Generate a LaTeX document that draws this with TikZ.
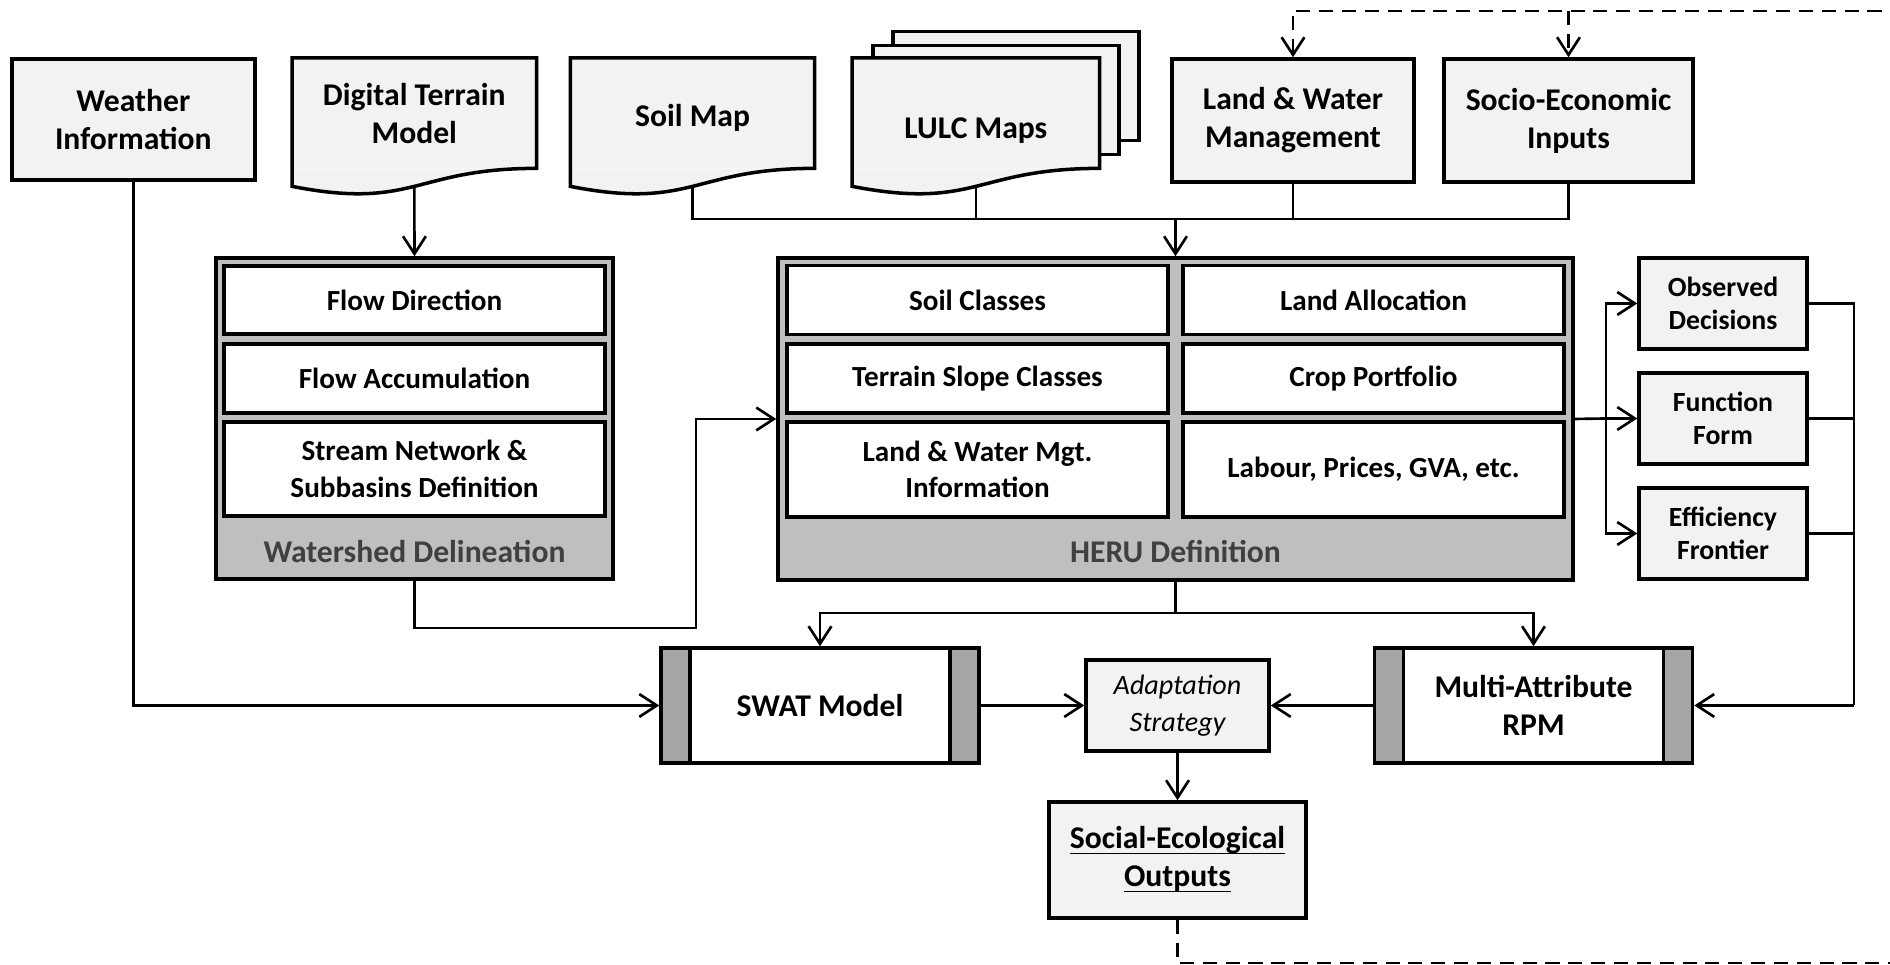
\documentclass[tikz,border=0pt]{standalone}
\usepackage{fontspec}
\setmainfont{Carlito}
\usetikzlibrary{calc}
\usetikzlibrary{arrows.meta}
\definecolor{ColFill}{RGB}{242,242,242}
\definecolor{ColGroup}{RGB}{191,191,191}
\definecolor{ColBar}{RGB}{166,166,166}
\definecolor{ColTitle}{RGB}{64,64,64}
\tikzstyle{InputBox}=[rectangle,draw=black,fill=ColFill,line width=1pt,inner sep=0pt,align=center,
font=\fontsize{9}{10.8}\selectfont\bfseries]
\tikzstyle{DocBox}=[rectangle,fill=ColFill,minimum width=2.43cm,minimum height=1.09cm,inner sep=0pt,align=center,
font=\fontsize{9}{10.8}\selectfont\bfseries]
\tikzstyle{DocLine}=[draw=black,line width=1pt]
\tikzstyle{GroupBox}=[rectangle,draw=black,fill=ColGroup,line width=1pt,inner sep=0pt]
\tikzstyle{GroupTitle}=[text=ColTitle,font=\fontsize{9}{10.8}\selectfont\bfseries]
\tikzstyle{StepBox}=[rectangle,draw=black,fill=white,line width=1pt,minimum width=3.81cm,inner sep=0pt,align=center,
font=\fontsize{8.3}{10.4}\selectfont\bfseries]
\tikzstyle{SideBox}=[InputBox,minimum width=1.68cm,minimum height=0.91cm,font=\fontsize{7.9}{9.4}\selectfont\bfseries]
\tikzstyle{ModelBox}=[rectangle,draw=black,fill=white,line width=1pt,minimum width=3.18cm,minimum height=1.15cm,
inner sep=0pt,align=center,font=\fontsize{9}{11}\selectfont\bfseries,
path picture={
\fill[ColBar](path picture bounding box.north west)rectangle([xshift=0.29cm]path picture bounding box.south west);
\fill[ColBar](path picture bounding box.north east)rectangle([xshift=-0.29cm]path picture bounding box.south east);
\draw[line width=1pt]([xshift=0.29cm]path picture bounding box.north west)--([xshift=0.29cm]path picture bounding box.south west);
\draw[line width=1pt]([xshift=-0.29cm]path picture bounding box.north east)--([xshift=-0.29cm]path picture bounding box.south east);}]
\tikzstyle{LinkLine}=[line width=0.75pt]
\tikzstyle{LinkArrow}=[LinkLine,-{Straight Barb[length=5pt,width=6.5pt]}]
\tikzstyle{LinkDash}=[LinkArrow,dash pattern=on 4pt off 2.5pt]
\newcommand{\DocWave}[1]{%
\fill[ColFill](#1.south east)..controls(#1.south)and($(#1.south)+(0,-0.42)$)..($(#1.south west)+(0,-0.18)$)--(#1.south west)--cycle;
\draw[DocLine](#1.north west)--(#1.north east)--(#1.south east)..controls(#1.south)and($(#1.south)+(0,-0.42)$)..($(#1.south west)+(0,-0.18)$)--cycle;}

\begin{document}
\begin{tikzpicture}
        \useasboundingbox(0,0)rectangle(18.9,9.65);
        \node[InputBox,minimum width=2.43cm,minimum height=1.21cm](weather)at(1.333,8.456){Weather\\Information};
        \node[DocBox](dtm)at(4.143,8.518){Digital Terrain\\Model};
        \DocWave{dtm}
        \node[DocBox](soil)at(6.925,8.518){\raisebox{-0.05cm}[\height][\depth]{Soil Map}};
        \DocWave{soil}
        \node[DocBox,draw=black,line width=1pt,minimum width=2.46cm](lulcC)at(10.159,8.79){};
        \node[DocBox,draw=black,line width=1pt,minimum width=2.46cm](lulcB)at(9.959,8.65){};
        \node[DocBox,minimum width=2.46cm](lulc)at(9.759,8.518){\raisebox{-0.17cm}[\height][\depth]{LULC Maps}};
        \DocWave{lulc}
        \node[InputBox,minimum width=2.42cm,minimum height=1.23cm](lw)at(12.93,8.445){Land \& Water\\Management};
        \node[InputBox,minimum width=2.49cm,minimum height=1.23cm](socio)at(15.685,8.445){Socio-Economic\\Inputs};
        \node[GroupBox,minimum width=3.97cm,minimum height=3.21cm](ws)at(4.145,5.465){};
        \node[StepBox,minimum height=0.68cm](flowDir)at(4.145,6.65){Flow Direction};
        \node[StepBox,minimum height=0.69cm](flowAcc)at(4.145,5.865){Flow Accumulation};
        \node[StepBox,minimum height=0.94cm](streamNet)at(4.145,4.96){Stream Network \&\\Subbasins Definition};
        \node[GroupTitle](wsTitle)at(4.145,4.13){Watershed Delineation};
        \node[GroupBox,minimum width=7.95cm,minimum height=3.22cm](heru)at(11.755,5.46){};
        \node[StepBox,minimum height=0.69cm](soilCls)at(9.775,6.65){Soil Classes};
        \node[StepBox,minimum height=0.69cm](slopeCls)at(9.775,5.865){Terrain Slope Classes};
        \node[StepBox,minimum height=0.95cm](mgtInfo)at(9.775,4.955){Land \& Water Mgt.\\Information};
        \node[StepBox,minimum height=0.69cm](landAlloc)at(13.735,6.65){Land Allocation};
        \node[StepBox,minimum height=0.69cm](cropPort)at(13.735,5.865){Crop Portfolio};
        \node[StepBox,minimum height=0.95cm](labour)at(13.735,4.955){Labour, Prices, GVA, etc.};
        \node[GroupTitle](heruTitle)at(11.755,4.13){HERU Definition};
        \node[SideBox](obs)at(17.23,6.615){Observed\\Decisions};
        \node[SideBox](fun)at(17.23,5.465){Function\\Form};
        \node[SideBox](eff)at(17.23,4.315){Efficiency\\Frontier};
        \node[ModelBox](swat)at(8.20,2.595){SWAT Model};
        \node[ModelBox](rpm)at(15.335,2.595){Multi-Attribute\\RPM};
        \node[InputBox,minimum width=1.83cm,minimum height=0.91cm,font=\fontsize{8}{10.5}\selectfont\itshape](adapt)at(11.775,2.595){Adaptation\\Strategy};
        \node[InputBox,minimum width=2.57cm,minimum height=1.16cm](seo)at(11.775,1.05){\underline{\raisebox{0pt}[\height][0pt]{Social-Ecological}}\\\underline{\raisebox{0pt}[\height][0pt]{Outputs}}};
        \coordinate(dtmB)at($(dtm.south)+(0,-0.18)$);
        \coordinate(soilB)at($(soil.south)+(0,-0.18)$);
        \coordinate(lulcEnd)at($(lulc.south)+(0,-0.18)$);
        \coordinate(busA)at(11.755,7.46);
        \coordinate(bendA)at(6.96,3.37);
        \coordinate(busB)at(11.755,3.52);
        \coordinate(brA)at(16.06,5.465);
        \coordinate(colA)at(18.54,2.595);
        \coordinate(fbBot)at(19.0,0.02);
        \coordinate(fbTop)at(19.0,9.54);
        \coordinate(fbMid)at(15.685,9.54);
        \draw[LinkArrow](dtmB)--(flowDir.north|-ws.north);
        \draw[LinkLine](soilB)|-(busA);
        \draw[LinkLine](lulcEnd)|-(busA);
        \draw[LinkLine](lw.south)|-(busA);
        \draw[LinkLine](socio.south)|-(busA);
        \draw[LinkArrow](busA)--(heru.north);
        \draw[LinkArrow](ws.south)|-(bendA)|-(heru.west);
        \draw[LinkArrow](weather.south)|-(swat.west);
        \draw[LinkLine](heru.south)--(busB);
        \draw[LinkArrow](busB)-|(swat.north);
        \draw[LinkArrow](busB)-|(rpm.north);
        \draw[LinkLine](heru.east)--(brA);
        \draw[LinkArrow](brA)|-(obs.west);
        \draw[LinkArrow](brA)--(fun.west);
        \draw[LinkArrow](brA)|-(eff.west);
        \draw[LinkLine](obs.east)-|(colA);
        \draw[LinkLine](fun.east)-|(colA);
        \draw[LinkLine](eff.east)-|(colA);
        \draw[LinkArrow](colA)--(rpm.east);
        \draw[LinkArrow](swat.east)--(adapt.west);
        \draw[LinkArrow](rpm.west)--(adapt.east);
        \draw[LinkArrow](adapt.south)--(seo.north);
        \draw[LinkDash](seo.south)|-(fbBot)--(fbTop)--(fbMid)-|(lw.north);
        \draw[LinkDash](fbMid)--(socio.north);
    \end{tikzpicture}
\end{document}
